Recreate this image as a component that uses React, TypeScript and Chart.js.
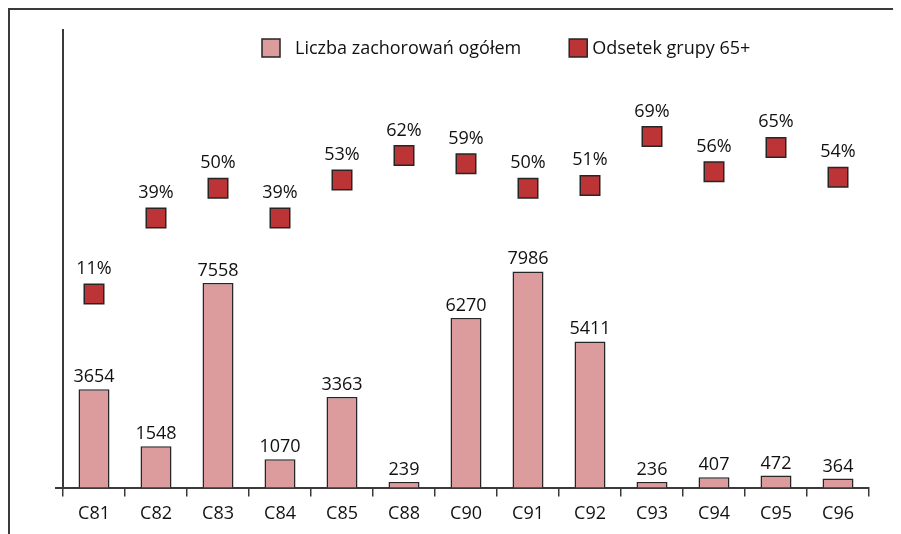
import React, { useEffect, useRef } from 'react';
import { Chart, registerables } from 'chart.js';

Chart.register(...registerables);

const categories = ['C81', 'C82', 'C83', 'C84', 'C85', 'C88', 'C90', 'C91', 'C92', 'C93', 'C94', 'C95', 'C96'];
const cases = [3654, 1548, 7558, 1070, 3363, 239, 6270, 7986, 5411, 236, 407, 472, 364];
const share65 = [11, 39, 50, 39, 53, 62, 59, 50, 51, 69, 56, 65, 54];
const seriesNames = ['Liczba zachorowań ogółem', 'Odsetek grupy 65+'];

const FONT_FAMILY = "'Open Sans', 'Noto Sans', sans-serif";
const FONT_SIZE = 18;
const TEXT_COLOR = '#111111';
const BAR_FILL = '#DC9B9D';
const SQUARE_FILL = '#BD3436';
const EDGE = '#262626';
const AXIS = '#3a3a3a';

const overlayPlugin = {
  id: 'overlay',
  afterDatasetsDraw(chart: any) {
    const ctx = chart.ctx as CanvasRenderingContext2D;
    const area = chart.chartArea;
    ctx.save();
    ctx.font = `${FONT_SIZE}px ${FONT_FAMILY}`;
    ctx.fillStyle = TEXT_COLOR;
    ctx.textAlign = 'center';
    ctx.textBaseline = 'alphabetic';
    const barMeta = chart.getDatasetMeta(0);
    barMeta.data.forEach((el: any, i: number) => {
      ctx.fillText(String(cases[i]), el.x, el.y - 7);
    });
    const ptMeta = chart.getDatasetMeta(1);
    ptMeta.data.forEach((el: any, i: number) => {
      ctx.fillText(share65[i] + '%', el.x, el.y - 20);
    });

    // legend
    const box = 18;
    const cy = area.top + 18;
    let x = area.left + 199;
    ctx.textAlign = 'left';
    ctx.textBaseline = 'middle';
    const fills = [BAR_FILL, SQUARE_FILL];
    const gaps = [15, 5];
    seriesNames.forEach((name, i) => {
      ctx.fillStyle = fills[i];
      ctx.strokeStyle = EDGE;
      ctx.lineWidth = 1.5;
      ctx.fillRect(x, cy - box / 2, box, box);
      ctx.strokeRect(x, cy - box / 2, box, box);
      x += box + gaps[i];
      ctx.fillStyle = TEXT_COLOR;
      ctx.fillText(name, x, cy + 1);
      x += ctx.measureText(name).width + 48;
    });
    ctx.restore();
  },
};

export default function App() {
  const ref = useRef<HTMLCanvasElement | null>(null);
  useEffect(() => {
    if (!ref.current) return;
    const chart = new Chart(ref.current, {
      type: 'bar',
      data: {
        labels: categories,
        datasets: [
          {
            type: 'bar',
            label: seriesNames[0],
            data: cases,
            backgroundColor: BAR_FILL,
            borderColor: EDGE,
            borderWidth: 1.5,
            barPercentage: 0.5,
            categoryPercentage: 1,
            yAxisID: 'y',
          },
          {
            type: 'line',
            label: seriesNames[1],
            data: share65,
            showLine: false,
            pointStyle: 'rect',
            pointRadius: 13.8,
            pointHoverRadius: 13.8,
            pointBackgroundColor: SQUARE_FILL,
            pointBorderColor: EDGE,
            pointBorderWidth: 1.5,
            yAxisID: 'y1',
          } as any,
        ],
      },
      options: {
        animation: false,
        responsive: false,
        events: [],
        layout: { padding: { left: 45, right: 24, top: 20, bottom: 2 } },
        plugins: {
          legend: { display: false },
          tooltip: { enabled: false },
        },
        scales: {
          x: {
            offset: true,
            grid: {
              display: true,
              drawOnChartArea: false,
              drawTicks: true,
              tickLength: 8,
              color: AXIS,
              lineWidth: 1.5,
              offset: true,
            },
            border: { display: true, color: AXIS, width: 2 },
            ticks: {
              color: TEXT_COLOR,
              font: { family: FONT_FAMILY, size: FONT_SIZE },
              padding: 7,
              maxRotation: 0,
              autoSkip: false,
            },
          },
          y: {
            position: 'left',
            min: 0,
            max: 16875,
            afterBuildTicks: (scale: any) => {
              scale.ticks = [{ value: 0 }];
            },
            grid: {
              display: true,
              drawOnChartArea: false,
              drawTicks: true,
              tickLength: 8,
              color: AXIS,
              lineWidth: 2,
            },
            border: { display: true, color: AXIS, width: 2 },
            ticks: { display: false },
          },
          y1: {
            display: false,
            position: 'right',
            min: -60.7,
            max: 108.3,
          },
        },
      },
      plugins: [overlayPlugin],
    });
    return () => chart.destroy();
  }, []);

  return (
    <div
      style={{
        width: 885,
        height: 526,
        boxSizing: 'border-box',
        borderTop: '2px solid #3a3a3a',
        borderLeft: '2px solid #3a3a3a',
      }}
    >
      <canvas ref={ref} width={883} height={524} style={{ display: 'block' }} />
    </div>
  );
}
